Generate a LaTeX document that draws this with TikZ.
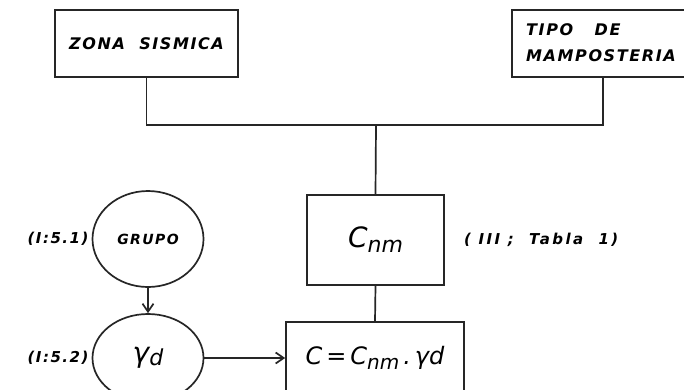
\documentclass[tikz,border=0pt]{standalone}
\usepackage{fontspec}
\setmainfont{DejaVu Sans}
\usetikzlibrary{arrows.meta,shapes.geometric}
\newfontfamily\handfont[LetterSpace=10]{DejaVu Sans Bold Oblique}
\newfontfamily\handfontw[LetterSpace=16]{DejaVu Sans Bold Oblique}
\newfontfamily\handfontn{DejaVu Sans Oblique}
\tikzset{
  ln/.style={line width=1.7pt, draw=black!85},
  boxn/.style={ln, rectangle, inner sep=0pt, font=\handfont\fontsize{16}{20}\selectfont},
  elln/.style={ln, ellipse, inner sep=0pt},
  lbl/.style={inner sep=0pt, font=\handfont\fontsize{15}{18}\selectfont},
  arr/.style={ln, -{Straight Barb[length=8pt,width=11pt]}},
}
\begin{document}
\begin{tikzpicture}[x=1pt,y=-1pt]
\useasboundingbox (0,0) rectangle (684,389);
\clip (0,0) rectangle (684,389);
\fill[white] (0,0) rectangle (684,389);
\node[boxn, minimum width=183pt, minimum height=67pt] (zona) at (146.5,43.5) {ZONA\ \ SISMICA};
\node[boxn, minimum width=182pt, minimum height=67pt] (tipo) at (603,43.5) {};
\node[lbl, anchor=west, font=\handfont\fontsize{16}{20}\selectfont] (tipot) at (526,30) {TIPO\ \ \ DE};
\node[lbl, anchor=west, font=\handfont\fontsize{16}{20}\selectfont] (tipob) at (526,56) {MAMPOSTERIA};
\coordinate (j) at (376,125);
\node[boxn, minimum width=137pt, minimum height=90pt] (cnm) at (375.5,240) {\handfontn\fontsize{28}{30}\selectfont C\raisebox{-5pt}{\fontsize{22}{24}\selectfont nm}};
\node[lbl, anchor=west, font=\handfontw\fontsize{15}{18}\selectfont] (tabla) at (464,240) {( III ;\ \ Tabla\ \ 1)};
\node[boxn, minimum width=178pt, minimum height=72pt] (c) at (375,358) {\handfontn\fontsize{24}{28}\selectfont C\,=\,C\raisebox{-5pt}{\fontsize{20}{22}\selectfont nm}\,.\,γd};
\node[elln, minimum width=111pt, minimum height=96pt] (grupo) at (148,239) {\handfont\fontsize{14}{16}\selectfont GRUPO};
\node[elln, minimum width=111pt, minimum height=88pt] (gd) at (148,358) {\handfontn\fontsize{28}{30}\selectfont γ\raisebox{-3pt}{\fontsize{22}{24}\selectfont d}};
\node[lbl, anchor=east] (l1) at ([xshift=-3pt]grupo.west) {(I:5.1)};
\node[lbl, anchor=east] (l2) at ([xshift=-3pt]gd.west) {(I:5.2)};
\draw[ln] (zona.south) |- (j) -| (tipo.south);
\draw[ln] (j) -- (cnm.north);
\draw[ln] (cnm.south) -- (c.north);
\draw[arr] (grupo.south) -- (gd.north);
\draw[arr] (gd.east) -- (c.west);
\end{tikzpicture}
\end{document}
